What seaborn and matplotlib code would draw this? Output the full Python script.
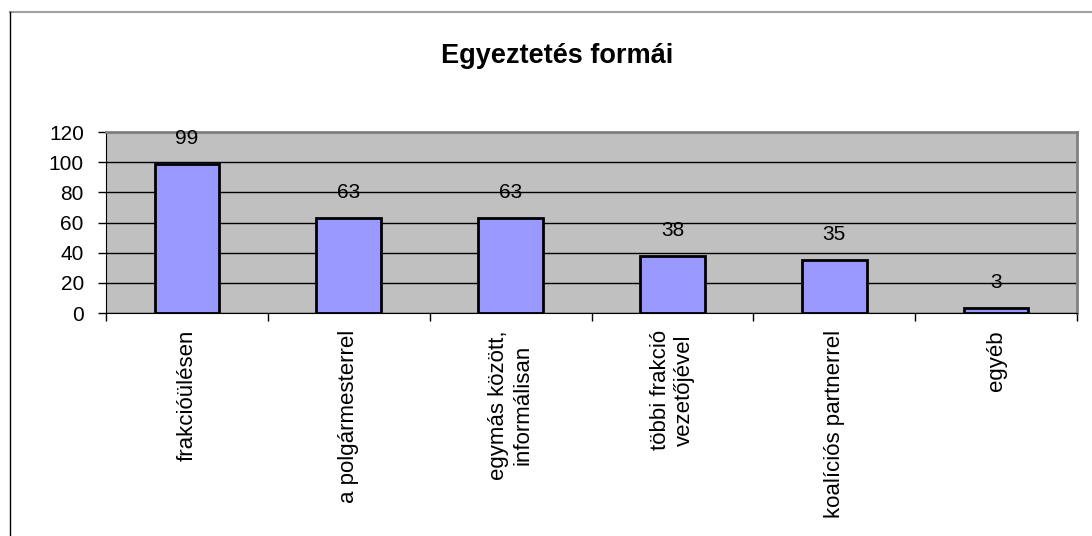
import matplotlib
matplotlib.use("Agg")
import matplotlib.pyplot as plt
import seaborn as sns
from matplotlib.lines import Line2D

categories = [
    "frakcióülésen",
    "a polgármesterrel",
    "egymás között,\ninformálisan",
    "többi frakció\nvezetőjével",
    "koalíciós partnerrel",
    "egyéb",
]
values = [99, 63, 63, 38, 35, 3]
y_ticks = [0, 20, 40, 60, 80, 100, 120]
title = "Egyeztetés formái"

plt.rcParams["font.family"] = ["Liberation Sans", "DejaVu Sans"]

fig = plt.figure(figsize=(10.92, 5.36), dpi=100)
ax = fig.add_axes([0.0971, 0.416, 0.8892, 0.3377])
ax.set_facecolor("#C0C0C0")

sns.barplot(x=categories, y=values, color="#9999FF", edgecolor="black",
            linewidth=2, width=0.4, saturation=1, ax=ax)

ax.set_ylim(0, 120)
ax.set_xlim(-0.5, len(categories) - 0.5)
ax.set_yticks(y_ticks)
ax.yaxis.grid(True, color="black", linewidth=1)
ax.set_axisbelow(True)
ax.tick_params(axis="y", direction="out", length=6, width=1, labelsize=15, pad=10)

# category ticks sit on the boundaries, labels at the centres
ax.set_xticks([i - 0.5 for i in range(len(categories) + 1)], minor=False)
ax.set_xticklabels([""] * (len(categories) + 1))
ax.tick_params(axis="x", direction="out", length=6, width=1)
for i, lab in enumerate(categories):
    ax.annotate(lab, xy=(i, 0), xycoords=("data", "axes fraction"),
                xytext=(0, -17), textcoords="offset pixels",
                rotation=90, ha="center", va="top", multialignment="center",
                fontsize=16)

for i, v in enumerate(values):
    ax.annotate(str(v), xy=(i, v), xytext=(0, 16), textcoords="offset pixels",
                ha="center", va="bottom", fontsize=15)

for side in ["top", "right"]:
    ax.spines[side].set_color("#808080")
    ax.spines[side].set_linewidth(2)
ax.spines["left"].set_color("black")
ax.spines["bottom"].set_color("black")
ax.set_xlabel("")
ax.set_ylabel("")

fig.text(0.5105, 0.8825, title, ha="center", va="baseline", fontsize=19.5, fontweight="bold")

# chart area border
fig.add_artist(Line2D([0.0092, 1.0], [0.9776, 0.9776], color="#A0A0A0", linewidth=1.5))
fig.add_artist(Line2D([0.0092, 0.0092], [0.0, 0.9776], color="black", linewidth=1))

fig.savefig("out.png", dpi=100)
